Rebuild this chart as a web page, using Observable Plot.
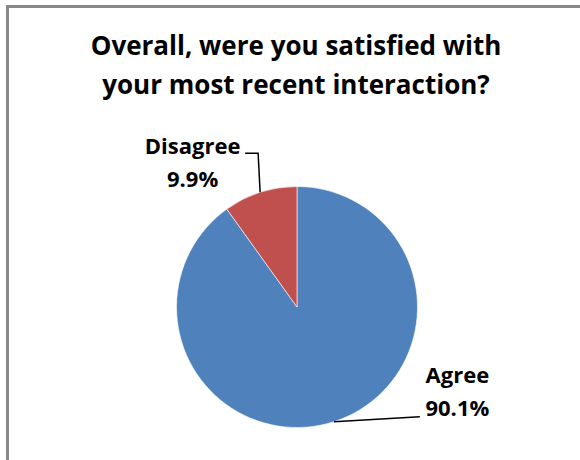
<!DOCTYPE html>
<html><head><meta charset="utf-8">
<script src="https://cdn.jsdelivr.net/npm/d3@7"></script>
<script src="https://cdn.jsdelivr.net/npm/@observablehq/plot@0.6"></script>
<style>
html,body{margin:0;padding:0;background:#fff;overflow:hidden;}
#wrap{position:relative;width:580px;height:460px;overflow:hidden;background:#fff;}
#frame{position:absolute;left:6px;top:5px;width:700px;height:600px;border:3px solid #888;box-sizing:border-box;}
#chart{position:absolute;left:0;top:0;}
#title{position:absolute;left:0;top:26px;width:592px;text-align:center;font-family:"Open Sans",sans-serif;font-weight:bold;font-size:26px;line-height:39px;color:#000;}
</style>
</head><body>
<div id="wrap"><div id="frame"></div><div id="chart"></div>
<div id="title">Overall, were you satisfied with<br>your most recent interaction?</div></div>
<script>
const categories = ["Agree", "Disagree"];
const values = [90.1, 9.9];
const valueLabels = ["90.1%", "9.9%"];
const colors = ["#4F81BD", "#C0504D"];

const rows = categories.map((c, i) => ({category: c, value: values[i], label: valueLabels[i], color: colors[i]}));
const arcs = d3.pie().sort(null).value(d => d.value).startAngle(0).endAngle(2 * Math.PI)(rows);
const slices = arcs.map(a => {
  const mid = (a.startAngle + a.endAngle) / 2;
  return {...a.data, startAngle: a.startAngle, endAngle: a.endAngle, mx: Math.sin(mid), my: Math.cos(mid)};
});
// leader line bends (pixel offsets from slice edge midpoint)
const leaders = {Agree: [[0, 0], [86, -5]], Disagree: [[0, 0], [-2, -39], [-15, -39]]};

function pieMark(index, scales) {
  const cx = scales.x(0), cy = scales.y(0), r = scales.x(1) - scales.x(0);
  const arc = d3.arc().innerRadius(0).outerRadius(r);
  const g = d3.create("svg:g");
  g.append("g").attr("transform", `translate(${cx},${cy})`)
    .selectAll("path").data(slices).join("path")
    .attr("d", arc).attr("fill", d => d.color).attr("stroke", "#fff").attr("stroke-width", 0.6);
  g.selectAll("polyline.l").data(slices).join("polyline")
    .attr("fill", "none").attr("stroke", "#000").attr("stroke-width", 1.5)
    .attr("points", d => {
      const ex = scales.x(d.mx), ey = scales.y(d.my);
      return leaders[d.category].map(([dx, dy]) => `${ex + dx},${ey + dy}`).join(" ");
    });
  return g.node();
}

const textOpts = {x: "mx", y: "my", text: d => d.category + "\n" + d.label, fontFamily: "'Open Sans', sans-serif",
  fontWeight: "bold", fontSize: 22, lineHeight: 1.5, fill: "#000", textAnchor: "middle", lineAnchor: "middle"};

const plot = Plot.plot({
  width: 580, height: 460, margin: 0,
  x: {domain: [-1, 1], range: [176.5, 417.5], axis: null},
  y: {domain: [-1, 1], range: [427.5, 186.5], axis: null},
  style: {background: "transparent"},
  marks: [
    pieMark,
    Plot.text(slices, {...textOpts, filter: d => d.category === "Agree", dx: 123, dy: -33}),
    Plot.text(slices, {...textOpts, filter: d => d.category === "Disagree", dx: -68, dy: -33})
  ]
});
document.getElementById("chart").appendChild(plot);
</script>
</body></html>
